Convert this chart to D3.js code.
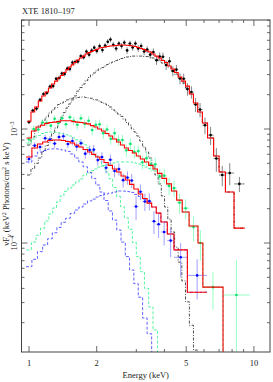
<!DOCTYPE html>
<html>
<head>
<meta charset="utf-8">
<script src="https://cdn.jsdelivr.net/npm/d3@7"></script>
<style>
  body { margin: 0; background: #fff; }
  text { font-family: "Liberation Serif", "DejaVu Serif", serif; fill: #222; }
</style>
</head>
<body>
<svg id="chart" width="273" height="382"></svg>
<script>
// vF_v values are given in units of 1e-4 keV^2 photons/cm^2/s/keV
const UNIT = 1e-4;

// ---- black spectrum (bright state) ----
const blackEdges = [0.98,1.02,1.06,1.10,1.14,1.18,1.22,1.26,1.30,1.34,1.38,1.42,1.46,1.50,1.54,1.58,1.625,1.675,1.725,1.775,1.825,1.875,1.925,1.975,2.03,2.09,2.15,2.21,2.27,2.335,2.405,2.475,2.545,2.615,2.69,2.77,2.85,2.93,3.015,3.105,3.20,3.30,3.405,3.515,3.63,3.75,3.875,4.005,4.14,4.285,4.44,4.605,4.78,4.965,5.165,5.385,5.625,5.9,6.22,6.62,7.0,7.47,8.16,9.1];
const blackFlux = [11.5,14.5,15.1,18.0,20.3,20.7,23.6,23.8,27.6,28.0,
  30.7,30.4,33.9,33.6,38.3,38.7,39.1,43.7,42.7,47.8,
  44.9,48.8,51.7,48.3,53.5,49.3,54.0,58.3,61.0,54.8,
  50.8,56.2,53.5,57.3,48.9,56.2,51.9,56.2,50.9,53.4,
  47.8,49.7,44.9,47.3,40.1,43.3,43.1,36.4,39.3,32.3,
  33.2,27.7,27.6,22.4,21.1,16.4,14.8,10.8,8.84,5.51,
  3.95,4.11,3.30];
const blackErr = [0.5,0.6,0.7,0.8,0.9,0.9,1.0,1.1,1.2,1.3,
  1.4,1.5,1.6,1.7,1.8,1.9,2.0,2.1,2.2,2.3,
  2.4,2.5,2.6,2.6,2.8,2.8,2.9,3.2,3.4,3.0,
  3.0,3.1,3.1,3.2,3.2,3.3,3.3,3.4,3.4,3.5,
  3.5,3.5,3.5,3.6,3.6,3.6,3.7,3.5,3.6,3.3,
  3.3,3.1,3.0,2.8,2.6,2.3,2.1,1.8,1.6,1.3,
  0.8,0.9,0.5];
const blackModel = [11.7,14.1,15.6,17.6,19.5,21.1,22.9,24.8,26.3,28.0,
  29.5,31.3,33.2,35.0,36.5,38.3,40.3,42.0,43.6,45.5,
  46.8,47.8,48.8,49.8,51.4,51.9,52.4,53.0,53.5,53.7,
  54.0,54.6,54.6,54.6,54.3,54.0,53.5,53.0,51.9,50.9,
  49.8,48.3,47.3,45.5,43.6,42.0,39.9,38.3,35.7,33.6,
  31.3,28.6,26.3,23.8,20.3,16.9,14.1,11.3,8.34,5.80,
  4.20,2.80,1.35];
const blackSoft = [7.24,8.5,9.8,10.8,11.9,12.7,13.8,14.7,15.4,16.4,
  16.9,17.4,18.0,18.4,18.6,18.7,18.9,19.1,19.1,18.9,
  18.7,18.6,18.1,18.0,17.6,17.1,16.6,16.1,15.6,14.7,
  14.1,13.5,12.9,12.2,11.4,10.8,10.0,9.41,8.68,7.85,
  6.95,6.28,5.57,4.74,3.95,3.30,2.59,2.07,1.62,1.25,
  0.92,0.68,0.465,0.305,0.19,0.115,0.057,null,null,null,
  null,null,null];
const blackHard = [3.95,4.5,5.0,5.57,6.35,7.17,8.17,9.13,10.2,11.4,
  12.7,13.95,15.3,16.6,18.0,19.5,21.5,23.1,24.8,26.6,
  28.3,29.8,31.0,32.3,33.6,34.6,35.7,36.8,37.9,38.7,
  39.9,40.7,41.5,42.4,42.8,43.2,43.6,43.6,43.6,43.6,
  43.2,43.2,42.8,42.0,40.7,39.5,37.9,36.4,35.0,32.3,
  30.2,28.0,25.3,22.9,20.3,16.9,14.1,11.3,8.34,5.80,
  4.20,2.80,1.35];

// ---- green spectrum ----
const greenEdges = [0.975,1.025,1.075,1.125,1.175,1.225,1.275,1.325,1.375,1.43,1.49,1.55,1.61,1.67,1.735,1.805,1.875,1.945,2.02,2.10,2.18,2.265,2.355,2.45,2.55,2.655,2.765,2.88,3.0,3.125,3.26,3.405,3.56,3.725,3.9,4.09,4.3,4.535,4.8,5.15,5.64,5.93,7.29,9.59];
const greenFlux = [8.1,10.0,9.9,11.4,11.3,10.7,12.3,11.3,12.4,11.0,
  12.7,11.8,10.9,12.4,11.1,11.8,9.8,10.9,11.0,9.2,
  9.9,8.2,9.2,8.0,8.0,6.5,7.4,6.3,6.4,5.1,
  5.55,4.9,4.9,3.84,3.9,3.17,3.03,2.26,2.02,1.38,
  1.00,0.41,0.35];
const greenErr = [0.6,0.7,0.7,0.8,0.8,0.8,0.9,0.9,0.9,0.9,
  1.0,1.0,1.0,1.1,1.0,1.1,1.0,1.1,1.1,1.0,
  1.0,0.9,1.0,0.9,0.9,0.8,0.9,0.8,0.8,0.7,
  0.75,0.7,0.7,0.6,0.6,0.55,0.5,0.45,0.4,0.35,
  0.3,0.15,0.36];
const greenModel = [8.34,9.6,10.4,10.8,11.2,11.4,11.5,11.6,11.8,11.8,
  11.8,11.6,11.5,11.4,11.3,11.1,10.7,10.4,10.0,9.6,
  9.13,8.68,8.17,7.69,7.24,6.81,6.48,6.16,5.80,5.46,
  5.14,4.80,4.46,4.08,3.69,3.30,2.86,2.38,1.87,1.41,
  1.00,0.41,0.05];
const greenSoft = [7.54,8.17,8.77,9.13,9.32,9.41,9.36,9.26,9.1,8.89,
  8.68,8.34,8.05,7.75,7.27,6.83,6.36,5.86,5.39,4.78,
  4.20,3.66,3.07,2.56,2.08,1.66,1.32,1.01,0.76,0.56,
  0.40,0.275,0.173,0.103,0.067,null,null,null,null,null,
  null,null,null];
const greenHard = [0.87,1.02,1.17,1.35,1.56,1.80,2.03,2.29,2.59,2.84,
  3.04,3.23,3.43,3.65,3.93,4.11,4.32,4.46,4.64,4.74,
  4.83,4.94,5.04,5.14,5.14,5.14,5.14,5.04,4.94,4.80,
  4.64,4.50,4.29,4.04,3.69,3.30,2.86,2.38,1.87,1.41,
  1.00,0.41,0.077];

// ---- blue spectrum (faint state) ----
const blueEdges = [0.97,1.03,1.09,1.15,1.21,1.27,1.33,1.39,1.455,1.525,1.595,1.665,1.74,1.82,1.90,1.98,2.065,2.155,2.25,2.35,2.455,2.565,2.68,2.80,2.925,3.06,3.2,3.35,3.51,3.68,3.86,4.12,4.41,5.06,6.18];
const blueFlux = [5.45,7.15,6.95,8.3,8.08,7.45,8.5,8.63,7.39,7.84,
  7.02,7.5,6.08,6.53,6.59,5.34,5.67,4.58,5.38,4.28,
  4.45,3.56,3.75,3.53,2.09,2.82,2.31,2.33,1.55,1.46,
  1.25,1.05,0.75,0.52];
const blueErr = [0.45,0.5,0.55,0.6,0.6,0.6,0.65,0.65,0.6,0.65,
  0.6,0.65,0.6,0.6,0.65,0.55,0.6,0.5,0.6,0.5,
  0.55,0.5,0.5,0.5,0.5,0.45,0.4,0.4,0.35,0.35,
  0.3,0.3,0.25,0.2];
const blueModel = [5.68,6.81,7.39,7.69,7.92,8.01,8.01,7.92,7.78,7.54,
  7.24,6.95,6.61,6.28,5.99,5.68,5.40,5.09,4.80,4.46,
  4.20,3.87,3.57,3.27,2.98,2.69,2.46,2.24,2.07,1.83,
  1.53,1.20,0.87,0.37];
const blueSoft = [5.14,5.80,6.28,6.47,6.67,6.70,6.67,6.54,6.36,6.04,
  5.57,5.14,4.66,4.16,3.69,3.23,2.80,2.36,1.91,1.59,
  1.30,1.02,0.76,0.58,0.44,0.335,0.22,0.16,0.11,0.065,
  null,null,null,null];
const blueHard = [0.62,0.72,0.84,0.96,1.09,1.23,1.37,1.52,1.65,1.82,
  1.95,2.07,2.20,2.34,2.43,2.53,2.61,2.69,2.74,2.80,
  2.86,2.86,2.83,2.78,2.67,2.56,2.41,2.24,2.07,1.83,
  1.53,1.20,0.87,0.37];

// axis ticks
const xLabelTicks = [1, 2, 5, 10];
const yLabelTicks = [1e-3, 1e-4];
const yLabelExp = ["\u22123", "\u22124"];

const frame = {left: 21.5, right: 270, top: 20, bottom: 352};

const svg = d3.select("#chart");

const x = d3.scaleLog().domain([0.926, 11.79]).range([frame.left, frame.right]);
const y = d3.scaleLog().domain([1.107e-5, 9.04e-3]).range([frame.bottom, frame.top]);

svg.append("defs").append("clipPath").attr("id", "plotclip")
  .append("rect")
    .attr("x", frame.left).attr("y", frame.top)
    .attr("width", frame.right - frame.left).attr("height", frame.bottom - frame.top);

const plot = svg.append("g").attr("clip-path", "url(#plotclip)");

// 빈(bin) 단위 계단선: 각 빈의 양 끝점을 이어서 그림
const stepLine = d3.line()
  .defined(d => d[1] != null)
  .x(d => x(d[0]))
  .y(d => y(d[1] * UNIT));

function stepPoints(edges, vals) {
  const pts = [];
  vals.forEach((v, i) => {
    pts.push([edges[i], v]);
    pts.push([edges[i + 1], v]);
  });
  return pts;
}

const sets = [
  {edges: blackEdges, flux: blackFlux, err: blackErr, model: blackModel, comps: [blackSoft, blackHard],
   dot: "#000", bar: "#555", comp: "#222", dash: "3,1.5,1,1.5"},
  {edges: greenEdges, flux: greenFlux, err: greenErr, model: greenModel, comps: [greenSoft, greenHard],
   dot: "#14e070", bar: "#6dffb0", comp: "#2cf08a", dash: "3,1.8"},
  {edges: blueEdges, flux: blueFlux, err: blueErr, model: blueModel, comps: [blueSoft, blueHard],
   dot: "#0000ff", bar: "#7a7aff", comp: "#3a3aff", dash: "3,1.8"}
];

// model components (dashed)
sets.forEach(s => {
  s.comps.forEach(c => {
    plot.append("path")
      .attr("d", stepLine(stepPoints(s.edges, c)))
      .attr("fill", "none")
      .attr("stroke", s.comp)
      .attr("stroke-width", 0.8)
      .attr("stroke-dasharray", s.dash);
  });
});

// data: bin-width bars, error bars, dots
sets.forEach(s => {
  const rows = s.flux.map((f, i) => ({
    lo: s.edges[i], hi: s.edges[i + 1], e: Math.sqrt(s.edges[i] * s.edges[i + 1]),
    f: f * UNIT, up: (f + s.err[i]) * UNIT, dn: Math.max(f - s.err[i], 0.01) * UNIT
  }));
  const g = plot.append("g");
  g.selectAll("line.h").data(rows).join("line")
    .attr("x1", d => x(d.lo)).attr("x2", d => x(d.hi))
    .attr("y1", d => y(d.f)).attr("y2", d => y(d.f))
    .attr("stroke", s.bar).attr("stroke-width", 0.9).attr("stroke-opacity", 0.8);
  g.selectAll("line.v").data(rows).join("line")
    .attr("x1", d => x(d.e)).attr("x2", d => x(d.e))
    .attr("y1", d => y(d.dn)).attr("y2", d => y(d.up))
    .attr("stroke", s.bar).attr("stroke-width", 0.9).attr("stroke-opacity", 0.8);
  g.selectAll("circle").data(rows).join("circle")
    .attr("cx", d => x(d.e)).attr("cy", d => y(d.f))
    .attr("r", 1.3).attr("fill", s.dot);
});

// total models (red)
sets.forEach(s => {
  plot.append("path")
    .attr("d", stepLine(stepPoints(s.edges, s.model)))
    .attr("fill", "none")
    .attr("stroke", "#ff0000")
    .attr("stroke-width", 1.1)
    .attr("stroke-linejoin", "miter");
});

/******************** 축 ********************/
const axisColor = "#444";
svg.append("rect")
  .attr("x", frame.left).attr("y", frame.top)
  .attr("width", frame.right - frame.left).attr("height", frame.bottom - frame.top)
  .attr("fill", "none").attr("stroke", axisColor).attr("stroke-width", 1);

const xTicks = [];
for (let d = 1; d <= 10; d *= 10) for (let k = 1; k <= 9; k++) {
  const v = k * d;
  if (v > x.domain()[0] && v < x.domain()[1]) xTicks.push(v);
}
const yTicks = [];
for (let p = -5; p <= -3; p++) for (let k = 1; k <= 9; k++) {
  const v = k * Math.pow(10, p);
  if (v > y.domain()[0] && v < y.domain()[1]) yTicks.push(v);
}
const isMajorX = v => xLabelTicks.some(t => Math.abs(t - v) < 1e-9);
const isMajorY = v => yLabelTicks.some(t => Math.abs(t - v) / t < 1e-6);

const ticks = svg.append("g").attr("stroke", axisColor).attr("stroke-width", 0.8);
xTicks.forEach(v => {
  const len = isMajorX(v) ? 6 : 3;
  ticks.append("line").attr("x1", x(v)).attr("x2", x(v)).attr("y1", frame.bottom).attr("y2", frame.bottom - len);
  ticks.append("line").attr("x1", x(v)).attr("x2", x(v)).attr("y1", frame.top).attr("y2", frame.top + len);
});
yTicks.forEach(v => {
  const len = isMajorY(v) ? 6 : 3;
  ticks.append("line").attr("y1", y(v)).attr("y2", y(v)).attr("x1", frame.left).attr("x2", frame.left + len);
  ticks.append("line").attr("y1", y(v)).attr("y2", y(v)).attr("x1", frame.right).attr("x2", frame.right - len);
});

svg.append("g").selectAll("text").data(xLabelTicks).join("text")
  .attr("x", d => x(d)).attr("y", 366)
  .attr("text-anchor", "middle").attr("font-size", 8.5)
  .text(d => d);

yLabelTicks.forEach((v, i) => {
  const t = svg.append("text")
    .attr("transform", `translate(17,${y(v)}) rotate(-90)`)
    .attr("text-anchor", "middle").attr("font-size", 8.5);
  t.append("tspan").text("10");
  t.append("tspan").attr("dy", -3.5).attr("font-size", 6).text(yLabelExp[i]);
});

svg.append("text")
  .attr("x", (frame.left + frame.right) / 2).attr("y", 378)
  .attr("text-anchor", "middle").attr("font-size", 8.5)
  .text("Energy (keV)");

const yl = svg.append("text")
  .attr("transform", `translate(9,${(frame.top + frame.bottom) / 2 + 8}) rotate(-90)`)
  .attr("text-anchor", "middle").attr("font-size", 8.5);
yl.append("tspan").text("\u03bdF");
yl.append("tspan").attr("dy", 2).attr("font-size", 6).text("\u03bd");
yl.append("tspan").attr("dy", -2).text(" (keV");
yl.append("tspan").attr("dy", -3.5).attr("font-size", 6).text("2");
yl.append("tspan").attr("dy", 3.5).text(" Photons/cm");
yl.append("tspan").attr("dy", -3.5).attr("font-size", 6).text("2");
yl.append("tspan").attr("dy", 3.5).text(" s keV)");

svg.append("text")
  .attr("x", 22).attr("y", 14)
  .attr("font-size", 8.5)
  .text("XTE 1810\u2013197");
</script>
</body>
</html>
